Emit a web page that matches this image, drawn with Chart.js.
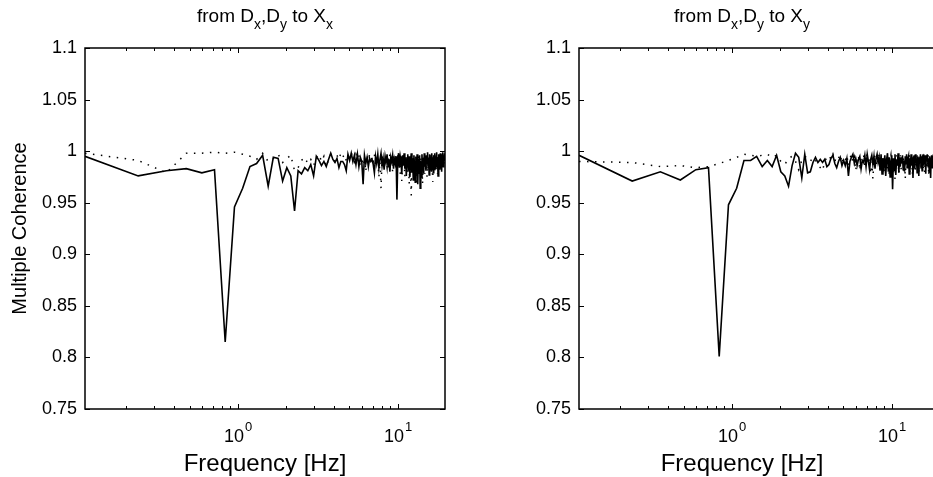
<!DOCTYPE html>
<html>
<head>
<meta charset="utf-8">
<script src="https://cdn.jsdelivr.net/npm/chart.js@4.4.0/dist/chart.umd.min.js"></script>
<style>
  html, body { margin: 0; padding: 0; background: #fff; }
  #page { position: relative; width: 933px; height: 477px; overflow: hidden; }
  .panel { position: absolute; top: 0; width: 470px; height: 477px; }
</style>
</head>
<body>
<div id="page">
  <div class="panel" style="left:0"><canvas id="toXx" width="470" height="477"></canvas></div>
  <div class="panel" style="left:494px"><canvas id="toXy" width="470" height="477"></canvas></div>
</div>
<script>
// frequency bins (Hz): first bin sits on the left axis limit
var DF = 0.1194;
var N_BINS = 166;
var F_MIN = 0.111, F_MAX = 19.8;

var yTicks = [0.75, 0.8, 0.85, 0.9, 0.95, 1, 1.05, 1.1];
var xMajor = [1, 10];
var xMinor = [0.2, 0.3, 0.4, 0.5, 0.6, 0.7, 0.8, 0.9, 2, 3, 4, 5, 6, 7, 8, 9];

// from Dx,Dy to Xx
var xxSolid = [
  0.995, 0.976, 0.981, 0.983, 0.979, 0.982, 0.815, 0.946, 0.964, 0.985,
  0.988, 0.996, 0.966, 0.994, 0.993, 0.971, 0.984, 0.976, 0.942, 0.981,
  0.978, 0.984, 0.981, 0.987, 0.976, 0.995, 0.991, 0.986, 0.990, 0.985,
  0.992, 0.998, 0.992, 0.989, 0.993, 0.984, 0.990, 0.990, 0.987, 0.981,
  0.997, 0.991, 0.998, 0.990, 0.996, 0.987, 0.997, 0.985, 0.994, 0.990,
  0.968, 0.996, 0.988, 0.994, 0.985, 0.993, 0.990, 0.992, 0.987, 0.979,
  0.995, 0.988, 0.997, 0.984, 0.992, 0.998, 0.986, 0.993, 0.982, 0.995,
  0.989, 0.997, 0.985, 0.992, 0.980, 0.994, 0.990, 0.996, 0.983, 0.992,
  0.988, 0.995, 0.953, 0.992, 0.998, 0.984, 0.995, 0.990, 0.978, 0.996,
  0.986, 0.998, 0.983, 0.994, 0.976, 0.992, 0.997, 0.981, 0.995, 0.975,
  0.990, 0.998, 0.979, 0.993, 0.972, 0.996, 0.985, 0.970, 0.994, 0.982,
  0.997, 0.968, 0.992, 0.978, 0.996, 0.964, 0.990, 0.975, 0.997, 0.983,
  0.993, 0.978, 0.998, 0.986, 0.994, 0.981, 0.996, 0.988, 0.999, 0.984,
  0.993, 0.977, 0.997, 0.989, 0.995, 0.982, 0.998, 0.987, 0.994, 0.979,
  0.996, 0.990, 0.998, 0.983, 0.995, 0.988, 0.999, 0.985, 0.994, 0.976,
  0.997, 0.989, 0.996, 0.982, 0.998, 0.987, 0.995, 0.980, 0.997, 0.990,
  0.999, 0.985, 0.996, 0.991, 0.998, 0.993
];
var xxDotted = [
  0.998, 0.991, 0.979, 0.998, 0.998, 0.999, 0.998, 0.999, 0.997, 0.995,
  0.992, 0.998, 0.990, 0.993, 0.997, 0.989, 0.993, 0.996, 0.981, 0.984,
  0.991, 0.994, 0.988, 0.992, 0.986, 0.994, 0.997, 0.990, 0.995, 0.985,
  0.992, 0.997, 0.993, 0.990, 0.996, 0.992, 0.998, 0.994, 0.997, 0.991,
  0.996, 0.993, 0.998, 0.995, 0.990, 0.997, 0.993, 0.996, 0.985, 0.994,
  0.982, 0.995, 0.980, 0.996, 0.991, 0.997, 0.988, 0.995, 0.990, 0.997,
  0.986, 0.994, 0.992, 0.975, 0.990, 0.964, 0.993, 0.997, 0.988, 0.995,
  0.991, 0.984, 0.996, 0.990, 0.997, 0.986, 0.993, 0.980, 0.995, 0.989,
  0.996, 0.985, 0.992, 0.997, 0.983, 0.994, 0.978, 0.990, 0.971, 0.993,
  0.986, 0.996, 0.975, 0.991, 0.984, 0.997, 0.979, 0.993, 0.968, 0.990,
  0.982, 0.957, 0.992, 0.986, 0.996, 0.974, 0.991, 0.980, 0.995, 0.970,
  0.989, 0.984, 0.996, 0.976, 0.992, 0.981, 0.995, 0.972, 0.990, 0.968,
  0.993, 0.985, 0.997, 0.978, 0.991, 0.983, 0.996, 0.975, 0.992, 0.986,
  0.997, 0.980, 0.993, 0.988, 0.996, 0.977, 0.991, 0.984, 0.970, 0.993,
  0.987, 0.996, 0.981, 0.994, 0.989, 0.997, 0.983, 0.992, 0.978, 0.995,
  0.987, 0.996, 0.982, 0.993, 0.989, 0.997, 0.984, 0.994, 0.990, 0.996,
  0.985, 0.993, 0.991, 0.997, 0.988, 0.994
];

// from Dx,Dy to Xy
var xySolid = [
  0.996, 0.971, 0.980, 0.972, 0.982, 0.984, 0.801, 0.948, 0.964, 0.991,
  0.991, 0.995, 0.985, 0.991, 0.985, 0.996, 0.980, 0.976, 0.966, 0.986,
  0.998, 0.994, 0.974, 0.997, 0.979, 0.980, 0.989, 0.994, 0.989, 0.992,
  0.989, 0.992, 0.985, 0.987, 0.993, 0.996, 0.988, 0.984, 0.990, 0.994,
  0.986, 0.991, 0.986, 0.993, 0.976, 0.990, 0.994, 0.997, 0.988, 0.993,
  0.986, 0.992, 0.995, 0.983, 0.991, 0.989, 0.996, 0.985, 0.997, 0.990,
  0.982, 0.992, 0.996, 0.987, 0.995, 0.983, 0.993, 0.997, 0.989, 0.994,
  0.981, 0.997, 0.978, 0.993, 0.986, 0.996, 0.976, 0.992, 0.998, 0.980,
  0.994, 0.975, 0.990, 0.996, 0.963, 0.993, 0.982, 0.997, 0.977, 0.992,
  0.986, 0.998, 0.979, 0.994, 0.985, 0.994, 0.988, 0.996, 0.982, 0.991,
  0.980, 0.995, 0.987, 0.997, 0.984, 0.992, 0.995, 0.978, 0.993, 0.989,
  0.997, 0.986, 0.994, 0.974, 0.992, 0.996, 0.983, 0.997, 0.988, 0.993,
  0.979, 0.995, 0.987, 0.976, 0.994, 0.990, 0.997, 0.984, 0.995, 0.981,
  0.993, 0.997, 0.986, 0.992, 0.989, 0.996, 0.978, 0.994, 0.990, 0.997,
  0.997, 0.985, 0.993, 0.980, 0.995, 0.988, 0.974, 0.992, 0.996, 0.984,
  0.994, 0.989, 0.997, 0.982, 0.993, 0.990, 0.996, 0.985, 0.994, 0.979,
  0.992, 0.997, 0.987, 0.995, 0.990, 0.996
];
var xyDotted = [
  0.990, 0.989, 0.985, 0.986, 0.984, 0.985, 0.988, 0.991, 0.994, 0.997,
  0.996, 0.995, 0.996, 0.997, 0.994, 0.996, 0.990, 0.987, 0.993, 0.995,
  0.990, 0.982, 0.991, 0.995, 0.993, 0.990, 0.994, 0.991, 0.987, 0.984,
  0.981, 0.990, 0.994, 0.996, 0.992, 0.997, 0.990, 0.995, 0.993, 0.997,
  0.988, 0.994, 0.991, 0.996, 0.986, 0.993, 0.997, 0.989, 0.994, 0.981,
  0.992, 0.996, 0.981, 0.993, 0.988, 0.996, 0.984, 0.993, 0.997, 0.987,
  0.994, 0.978, 0.990, 0.973, 0.992, 0.996, 0.985, 0.993, 0.989, 0.997,
  0.982, 0.994, 0.988, 0.996, 0.979, 0.992, 0.986, 0.995, 0.983, 0.993,
  0.976, 0.991, 0.996, 0.985, 0.993, 0.980, 0.992, 0.973, 0.990, 0.996,
  0.984, 0.993, 0.978, 0.991, 0.996, 0.982, 0.994, 0.987, 0.996, 0.979,
  0.992, 0.973, 0.990, 0.995, 0.984, 0.993, 0.988, 0.996, 0.980, 0.992,
  0.986, 0.995, 0.977, 0.991, 0.996, 0.985, 0.993, 0.981, 0.995, 0.988,
  0.996, 0.983, 0.992, 0.978, 0.994, 0.989, 0.996, 0.984, 0.993, 0.987,
  0.996, 0.982, 0.994, 0.990, 0.979, 0.993, 0.997, 0.986, 0.994, 0.983,
  0.992, 0.996, 0.976, 0.991, 0.976, 0.993, 0.988, 0.996, 0.984, 0.993,
  0.989, 0.996, 0.982, 0.994, 0.990, 0.997, 0.985, 0.993, 0.988, 0.996,
  0.983, 0.994, 0.990, 0.997, 0.986, 0.994
];

var freqs = [F_MIN];
for (var k = 2; k <= N_BINS; k++) {
  freqs.push(+(k * DF).toFixed(4));
}

var FONT = "'Liberation Sans', Arial, Helvetica, sans-serif";
Chart.defaults.font.family = FONT;
Chart.defaults.color = '#000';

function toPoints(values) {
  return values.map(function(v, i) { return {x: freqs[i], y: v}; });
}

// matlab style box, inward ticks, 10^n labels and titles with subscripts
var matlabAxes = {
  id: 'matlabAxes',
  afterDraw: function(chart, args, opts) {
    var ctx = chart.ctx;
    var a = chart.chartArea;
    var x = chart.scales.x, y = chart.scales.y;
    ctx.save();
    ctx.strokeStyle = '#000';
    ctx.fillStyle = '#000';

    function seg(x1, y1, x2, y2) {
      ctx.beginPath();
      ctx.moveTo(x1, y1);
      ctx.lineTo(x2, y2);
      ctx.stroke();
    }

    ctx.lineWidth = 1;
    yTicks.forEach(function(v) {
      var py = Math.round(y.getPixelForValue(v)) + 0.5;
      seg(a.left, py, a.left + 5, py);
      seg(a.right, py, a.right - 5, py);
    });
    xMajor.concat(xMinor).forEach(function(v) {
      var len = xMajor.indexOf(v) >= 0 ? 5 : 3;
      var px = Math.round(x.getPixelForValue(v)) + 0.5;
      seg(px, a.bottom, px, a.bottom - len);
      seg(px, a.top, px, a.top + len);
    });

    ctx.lineWidth = 1.5;
    ctx.strokeRect(a.left, a.top, a.right - a.left, a.bottom - a.top);

    // x tick labels as 10^n
    ctx.textBaseline = 'alphabetic';
    ctx.textAlign = 'left';
    xMajor.forEach(function(v) {
      var px = x.getPixelForValue(v);
      ctx.font = '18px ' + FONT;
      var wBase = ctx.measureText('10').width;
      ctx.font = '13px ' + FONT;
      var exp = String(Math.round(Math.log10(v)));
      var wExp = ctx.measureText(exp).width;
      var x0 = px - (wBase + wExp) / 2;
      ctx.font = '18px ' + FONT;
      ctx.fillText('10', x0, 442);
      ctx.font = '13px ' + FONT;
      ctx.fillText(exp, x0 + wBase + 1, 431);
    });

    // x axis label
    ctx.textAlign = 'center';
    ctx.font = '24px ' + FONT;
    ctx.fillText('Frequency [Hz]', opts.textX, 471);

    // title: from D_x,D_y to X_?
    var parts = [
      ['from D', false], ['x', true], [',D', false], ['y', true],
      [' to X', false], [opts.sub, true]
    ];
    var total = 0;
    parts.forEach(function(p) {
      ctx.font = (p[1] ? '14px ' : '19px ') + FONT;
      total += ctx.measureText(p[0]).width;
    });
    var cx = opts.textX - total / 2;
    ctx.textAlign = 'left';
    parts.forEach(function(p) {
      ctx.font = (p[1] ? '14px ' : '19px ') + FONT;
      ctx.fillText(p[0], cx, p[1] ? 29 : 22);
      cx += ctx.measureText(p[0]).width;
    });
    ctx.restore();
  }
};

function makeChart(id, solid, dotted, sub, textX, yTitle) {
  var ctx = document.getElementById(id).getContext('2d');
  return new Chart(ctx, {
    type: 'line',
    data: {
      datasets: [
        {
          label: 'dotted',
          data: toPoints(dotted),
          borderColor: '#000',
          borderWidth: 1.5,
          borderDash: [1.5, 6.5],
          pointRadius: 0,
          fill: false,
          tension: 0
        },
        {
          label: 'solid',
          data: toPoints(solid),
          borderColor: '#000',
          borderWidth: 1.6,
          pointRadius: 0,
          fill: false,
          tension: 0
        }
      ]
    },
    options: {
      responsive: false,
      animation: false,
      events: [],
      layout: { padding: { top: 48, right: 25, left: 0, bottom: 0 } },
      plugins: {
        legend: { display: false },
        tooltip: { enabled: false },
        matlabAxes: { sub: sub, textX: textX }
      },
      scales: {
        x: {
          type: 'logarithmic',
          min: F_MIN,
          max: F_MAX,
          grid: { display: false },
          border: { display: false },
          ticks: { display: false },
          afterFit: function(scale) { scale.height = 68; }
        },
        y: {
          type: 'linear',
          min: 0.75,
          max: 1.1,
          grid: { display: false, drawTicks: false },
          border: { display: false },
          ticks: {
            stepSize: 0.05,
            padding: 8,
            font: { size: 18 },
            callback: function(v) { return String(+v.toFixed(2)); }
          },
          title: {
            display: !!yTitle,
            text: yTitle || '',
            font: { size: 20 },
            padding: { top: 8, bottom: 0 }
          },
          afterFit: function(scale) { scale.width = 85; }
        }
      }
    },
    plugins: [matlabAxes]
  });
}

makeChart('toXx', xxSolid, xxDotted, 'x', 265, 'Multiple Coherence');
makeChart('toXy', xySolid, xyDotted, 'y', 248, '');
</script>
</body>
</html>
